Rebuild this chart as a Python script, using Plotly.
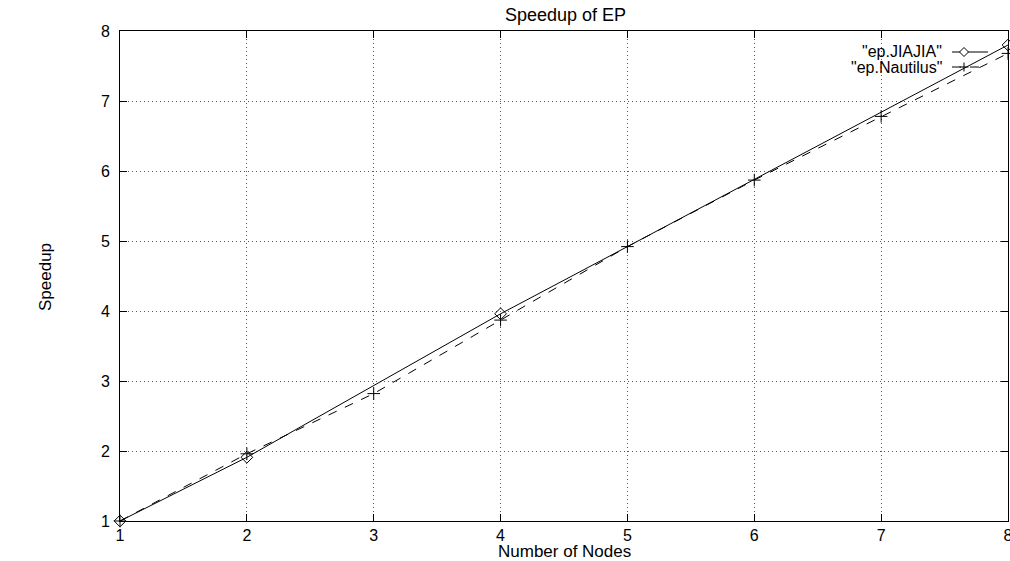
import plotly.graph_objects as go

nodes_jiajia = [1, 2, 4, 8]
speedup_jiajia = [1.0, 1.91, 3.96, 7.80]
nodes_nautilus = [1, 2, 3, 4, 5, 6, 7, 8]
speedup_nautilus = [1.0, 1.96, 2.82, 3.87, 4.92, 5.87, 6.78, 7.68]
x_ticks = [1, 2, 3, 4, 5, 6, 7, 8]
y_ticks = [1, 2, 3, 4, 5, 6, 7, 8]
series_names = ['"ep.JIAJIA"', '"ep.Nautilus"']

FONT = "Liberation Sans, Arial, Helvetica, sans-serif"
W, H = 1010, 561
L, R, T, B = 120, 2, 31, 40
PW, PH = W - L - R, H - T - B

def px(x):
    return (x - L) / PW

def py(y):
    return (H - B - y) / PH

fig = go.Figure()
fig.add_trace(go.Scatter(
    x=nodes_jiajia, y=speedup_jiajia, mode="lines+markers", name=series_names[0],
    line=dict(color="black", width=1),
    marker=dict(symbol="diamond-open", size=9, color="black", line=dict(width=1)),
    cliponaxis=False))
fig.add_trace(go.Scatter(
    x=nodes_nautilus, y=speedup_nautilus, mode="lines+markers", name=series_names[1],
    line=dict(color="black", width=1, dash="dash"),
    marker=dict(symbol="cross-thin-open", size=9, color="black", line=dict(width=1, color="black")),
    cliponaxis=False))

axis_common = dict(
    showline=True, linecolor="black", linewidth=1, mirror="ticks",
    ticks="inside", ticklen=7, tickcolor="black", tickwidth=1,
    showgrid=True, gridcolor="#555", gridwidth=1, griddash="1px,3px",
    zeroline=False, tickfont=dict(family=FONT, size=16, color="black"),
    ticklabeloverflow="allow",
)
fig.update_xaxes(range=[1, 8], tickvals=x_ticks, ticktext=[str(v) for v in x_ticks], **axis_common)
fig.update_yaxes(range=[1, 8], tickvals=y_ticks, ticktext=[str(v) for v in y_ticks], ticklabelstandoff=6, **axis_common)

def ann(text, x, y, size, xanchor="center", angle=0):
    return dict(text=text, x=px(x), y=py(y), xref="paper", yref="paper",
                xanchor=xanchor, yanchor="middle", textangle=angle, showarrow=False,
                font=dict(family=FONT, size=size, color="black"))

annotations = [
    ann("Speedup of EP", 565, 15, 18),
    ann("Number of Nodes", 564, 551, 17),
    ann("Speedup", 45, 277, 17, angle=-90),
    ann(series_names[0], 944, 51, 16, xanchor="right"),
    ann(series_names[1], 944, 67, 16, xanchor="right"),
]

shapes = []
shapes.append(dict(type="line", xref="paper", yref="paper", x0=px(952), x1=px(988), y0=py(52), y1=py(52),
                   line=dict(color="black", width=1)))
shapes.append(dict(type="line", xref="paper", yref="paper", x0=px(952), x1=px(988), y0=py(67), y1=py(67),
                   line=dict(color="black", width=1, dash="dash")))
cx, cy, r = 964, 52, 4.5
shapes.append(dict(type="path", xref="paper", yref="paper",
                   path=f"M {px(cx-r)},{py(cy)} L {px(cx)},{py(cy-r)} L {px(cx+r)},{py(cy)} L {px(cx)},{py(cy+r)} Z",
                   line=dict(color="black", width=1), fillcolor="white"))
cx, cy = 964, 67
shapes.append(dict(type="line", xref="paper", yref="paper", x0=px(cx-4.5), x1=px(cx+4.5), y0=py(cy), y1=py(cy),
                   line=dict(color="black", width=1)))
shapes.append(dict(type="line", xref="paper", yref="paper", x0=px(cx), x1=px(cx), y0=py(cy-4.5), y1=py(cy+4.5),
                   line=dict(color="black", width=1)))

fig.update_layout(
    width=W, height=H, margin=dict(l=L, r=R, t=T, b=B, autoexpand=False),
    paper_bgcolor="white", plot_bgcolor="white", showlegend=False,
    annotations=annotations, shapes=shapes,
    font=dict(family=FONT, color="black"),
)
fig.write_html("out.html", config={"displayModeBar": False},
               post_script="document.body.style.margin='0';document.body.style.overflow='hidden';")
